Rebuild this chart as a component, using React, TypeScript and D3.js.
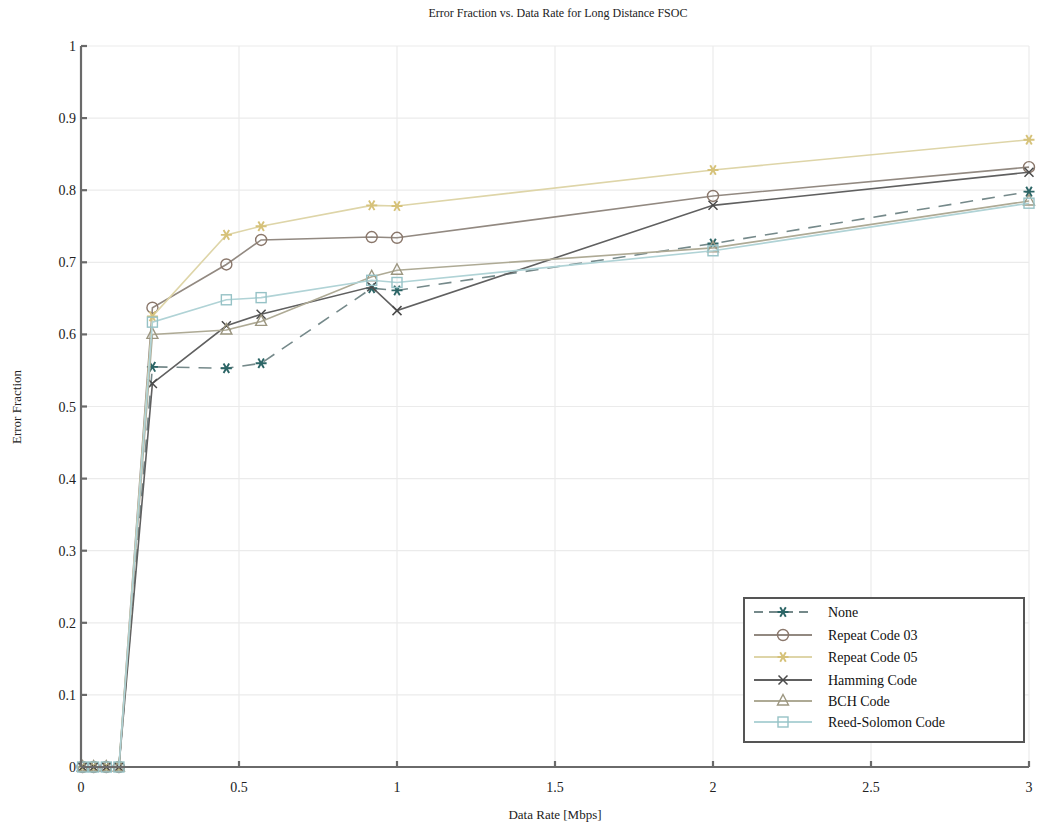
import React from 'react';
import * as d3 from 'd3';

// data rates [Mbps]
const rates = [0.005, 0.04, 0.08, 0.12, 0.226, 0.46, 0.57, 0.92, 1.0, 2.0, 3.0];

// error fractions per coding scheme
const noneVals = [0, 0, 0, 0, 0.555, 0.553, 0.56, 0.664, 0.661, 0.726, 0.798];
const repeat03Vals = [0, 0, 0, 0, 0.637, 0.697, 0.731, 0.735, 0.734, 0.792, 0.832];
const repeat05Vals = [0, 0, 0, 0, 0.625, 0.738, 0.75, 0.779, 0.778, 0.828, 0.87];
const hammingVals = [0, 0, 0, 0, 0.532, 0.612, 0.628, 0.666, 0.633, 0.779, 0.825];
const bchVals = [0, 0, 0, 0, 0.6, 0.606, 0.618, 0.68, 0.689, 0.72, 0.785];
const rsVals = [0, 0, 0, 0, 0.617, 0.648, 0.651, 0.675, 0.672, 0.716, 0.782];

const xTicks = [0, 0.5, 1, 1.5, 2, 2.5, 3];
const yTicks = [0, 0.1, 0.2, 0.3, 0.4, 0.5, 0.6, 0.7, 0.8, 0.9, 1];

const series = [
  { name: 'None', values: noneVals, line: '#75898a', mark: '#2c6566', marker: 'star', dash: '13 9' },
  { name: 'Repeat Code 03', values: repeat03Vals, line: '#928981', mark: '#8a776b', marker: 'circle', dash: null },
  { name: 'Repeat Code 05', values: repeat05Vals, line: '#ded5a8', mark: '#d6c27a', marker: 'star', dash: null },
  { name: 'Hamming Code', values: hammingVals, line: '#606060', mark: '#4a4a4a', marker: 'x', dash: null },
  { name: 'BCH Code', values: bchVals, line: '#aeaa95', mark: '#9c9680', marker: 'triangle', dash: null },
  { name: 'Reed-Solomon Code', values: rsVals, line: '#b0d3d6', mark: '#96c2c6', marker: 'square', dash: null },
];

const font = '"Liberation Serif", "DejaVu Serif", serif';

const x = d3.scaleLinear().domain([0, 3]).range([81, 1029]);
const y = d3.scaleLinear().domain([0, 1]).range([767, 46]);

function Marker({ kind, cx, cy, color }: { kind: string; cx: number; cy: number; color: string }) {
  const r = 5.5;
  if (kind === 'circle') {
    return <circle cx={cx} cy={cy} r={r} fill="none" stroke={color} strokeWidth={1.4} />;
  }
  if (kind === 'square') {
    return <rect x={cx - 5} y={cy - 5} width={10} height={10} fill="none" stroke={color} strokeWidth={1.4} />;
  }
  if (kind === 'triangle') {
    return (
      <path
        d={`M${cx},${cy - 6.5} L${cx + 5.5},${cy + 4} L${cx - 5.5},${cy + 4} Z`}
        fill="none"
        stroke={color}
        strokeWidth={1.4}
      />
    );
  }
  if (kind === 'x') {
    return (
      <path
        d={`M${cx - 4.5},${cy - 4.5} L${cx + 4.5},${cy + 4.5} M${cx - 4.5},${cy + 4.5} L${cx + 4.5},${cy - 4.5}`}
        stroke={color}
        strokeWidth={1.5}
      />
    );
  }
  // asterisk
  return (
    <path
      d={`M${cx - 5.5},${cy} L${cx + 5.5},${cy} M${cx - 2.8},${cy - 4.8} L${cx + 2.8},${cy + 4.8} M${cx - 2.8},${cy + 4.8} L${cx + 2.8},${cy - 4.8}`}
      stroke={color}
      strokeWidth={1.9}
    />
  );
}

export default function App() {
  const line = d3
    .line<number>()
    .x((_, i) => x(rates[i]))
    .y((d) => y(d));

  const legendX = 744;
  const legendY = 598;
  const legendRows = [612, 635, 657, 680, 701, 722];

  return (
    <svg
      width={1040}
      height={828}
      style={{ position: 'absolute', left: 0, top: 0, background: '#fff' }}
      fontFamily={font}
    >
      {/* grid */}
      <g stroke="#ebebeb" strokeWidth={1.2}>
        {xTicks.slice(1).map((t) => (
          <line key={'gx' + t} x1={x(t)} x2={x(t)} y1={y(0)} y2={y(1)} />
        ))}
        {yTicks.slice(1).map((t) => (
          <line key={'gy' + t} x1={x(0)} x2={x(3)} y1={y(t)} y2={y(t)} />
        ))}
      </g>

      {/* series */}
      {series.map((s) => (
        <g key={s.name}>
          <path
            d={line(s.values) || ''}
            fill="none"
            stroke={s.line}
            strokeWidth={1.6}
            strokeDasharray={s.dash || undefined}
          />
          {s.values.map((v, i) => (
            <Marker key={i} kind={s.marker} cx={x(rates[i])} cy={y(v)} color={s.mark} />
          ))}
        </g>
      ))}

      {/* axes */}
      <g stroke="#6a6a6a" strokeWidth={2.2}>
        <line x1={x(0)} x2={x(0)} y1={y(0)} y2={y(1)} />
        <line x1={x(0)} x2={x(3)} y1={y(0)} y2={y(0)} />
        {yTicks.map((t) => (
          <line key={'ty' + t} x1={x(0)} x2={x(0) + 6} y1={y(t)} y2={y(t)} />
        ))}
        {xTicks.map((t) => (
          <line key={'tx' + t} x1={x(t)} x2={x(t)} y1={y(0)} y2={y(0) - 6} />
        ))}
      </g>

      {/* tick labels */}
      <g fontSize={14} fill="#222">
        {yTicks.map((t) => (
          <text key={'ly' + t} x={x(0) - 5} y={y(t) + 5} textAnchor="end">
            {d3.format('~g')(t)}
          </text>
        ))}
        {xTicks.map((t) => (
          <text key={'lx' + t} x={x(t)} y={792} textAnchor="middle">
            {d3.format('~g')(t)}
          </text>
        ))}
      </g>

      {/* titles */}
      <text x={558} y={17} textAnchor="middle" fontSize={12} fill="#222">
        Error Fraction vs. Data Rate for Long Distance FSOC
      </text>
      <text x={555} y={819} textAnchor="middle" fontSize={13} fill="#222">
        Data Rate [Mbps]
      </text>
      <text transform="translate(21,407) rotate(-90)" textAnchor="middle" fontSize={13} fill="#222">
        Error Fraction
      </text>

      {/* legend */}
      <rect
        x={legendX}
        y={legendY}
        width={280}
        height={144}
        fill="#fff"
        stroke="#555"
        strokeWidth={2}
      />
      {series.map((s, i) => {
        const ly = legendRows[i];
        return (
          <g key={'lg' + s.name}>
            <line
              x1={754}
              x2={812}
              y1={ly}
              y2={ly}
              stroke={s.line}
              strokeWidth={2}
              strokeDasharray={s.dash ? '9 6' : undefined}
            />
            <Marker kind={s.marker} cx={783} cy={ly} color={s.mark} />
            <text x={828} y={ly + 5} fontSize={14} fill="#111">
              {s.name}
            </text>
          </g>
        );
      })}
    </svg>
  );
}
